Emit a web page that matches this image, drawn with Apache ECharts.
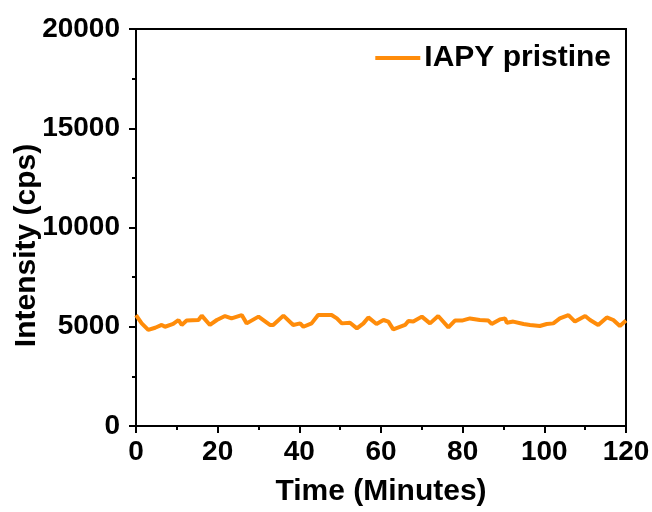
<!DOCTYPE html>
<html>
<head>
<meta charset="utf-8">
<script src="https://cdn.jsdelivr.net/npm/echarts@6/dist/echarts.min.js"></script>
<style>html,body{margin:0;padding:0;background:#fff;}#c{width:652px;height:512px;}</style>
</head>
<body>
<div id="c"></div>
<script>
var timeMinutes = [0, 1.4, 3.0, 4.7, 6.3, 7.1, 9.1, 10.4, 11.2, 12.4, 15.3, 16.1, 18.1, 19.8, 21.8, 23.4, 25.9, 27.1, 30.0, 32.8, 33.6, 36.1, 38.5, 40.2, 41.0, 43.0, 44.6, 47.9, 49.2, 50.4, 52.4, 54.1, 55.7, 56.9, 58.9, 60.6, 61.8, 63.0, 65.9, 66.7, 67.9, 70.0, 72.0, 74.0, 76.5, 78.1, 79.8, 81.8, 84.2, 86.3, 87.1, 89.1, 90.4, 90.8, 92.4, 94.9, 96.5, 98.9, 100.6, 102.2, 103.8, 105.9, 107.5, 110.0, 111.2, 113.2, 115.3, 116.9, 118.5, 120];
var intensityCps = [5590, 5170, 4840, 4950, 5090, 5000, 5140, 5340, 5090, 5310, 5340, 5560, 5090, 5340, 5540, 5420, 5590, 5170, 5510, 5090, 5090, 5560, 5090, 5170, 5000, 5170, 5590, 5590, 5420, 5170, 5200, 4920, 5170, 5470, 5140, 5340, 5260, 4870, 5090, 5290, 5260, 5510, 5170, 5540, 4970, 5310, 5310, 5420, 5340, 5310, 5140, 5370, 5420, 5200, 5260, 5140, 5090, 5040, 5140, 5170, 5420, 5590, 5260, 5540, 5340, 5090, 5470, 5340, 5040, 5310];
var seriesName = 'IAPY pristine';
var xTicks = [0, 20, 40, 60, 80, 100, 120];
var yTicks = [0, 5000, 10000, 15000, 20000];

var points = timeMinutes.map(function (t, i) { return [t, intensityCps[i]]; });
var font = 'Liberation Sans, Arial, sans-serif';
var chart = echarts.init(document.getElementById('c'), null, { renderer: 'canvas' });
chart.setOption({
  backgroundColor: '#fff',
  animation: false,
  grid: { left: 136, right: 26, top: 29, bottom: 86, containLabel: false, outerBoundsMode: 'none', show: true, borderColor: '#000', borderWidth: 2, backgroundColor: 'transparent' },
  legend: {
    right: 41, top: 43, padding: 0,
    icon: 'rect', itemWidth: 45, itemHeight: 4, itemGap: 4,
    textStyle: { fontFamily: font, fontWeight: 'bold', fontSize: 30, color: '#000', padding: [0, 0, 0, -1] },
    data: [seriesName]
  },
  xAxis: {
    type: 'value', min: xTicks[0], max: xTicks[xTicks.length - 1], interval: 20,
    name: 'Time (Minutes)', nameLocation: 'middle', nameGap: 51, nameMoveOverlap: false,
    nameTextStyle: { fontFamily: font, fontWeight: 'bold', fontSize: 30, color: '#000' },
    axisLine: { show: true, lineStyle: { color: '#000', width: 2 } },
    axisTick: { show: true, length: 7, lineStyle: { color: '#000', width: 2 } },
    minorTick: { show: true, splitNumber: 2, length: 4, lineStyle: { color: '#000', width: 2 } },
    axisLabel: { margin: 12, fontFamily: font, fontWeight: 'bold', fontSize: 28, color: '#000', formatter: function (v) { return String(v); } },
    splitLine: { show: false }
  },
  yAxis: {
    type: 'value', min: yTicks[0], max: yTicks[yTicks.length - 1], interval: 5000,
    name: 'Intensity (cps)', nameLocation: 'middle', nameGap: 94, nameMoveOverlap: false,
    nameTextStyle: { fontFamily: font, fontWeight: 'bold', fontSize: 30, color: '#000', padding: [0, 36, 0, 0] },
    axisLine: { show: true, lineStyle: { color: '#000', width: 2 } },
    axisTick: { show: true, length: 7, lineStyle: { color: '#000', width: 2 } },
    minorTick: { show: true, splitNumber: 2, length: 4, lineStyle: { color: '#000', width: 2 } },
    axisLabel: { margin: 16, fontFamily: font, fontWeight: 'bold', fontSize: 28, color: '#000', formatter: function (v) { return String(v); } },
    splitLine: { show: false }
  },
  series: [{
    name: seriesName, type: 'line', data: points, showSymbol: false, symbol: 'none',
    lineStyle: { color: '#FF8C0A', width: 4 }, itemStyle: { color: '#FF8C0A' }
  }]
});
</script>
</body>
</html>
